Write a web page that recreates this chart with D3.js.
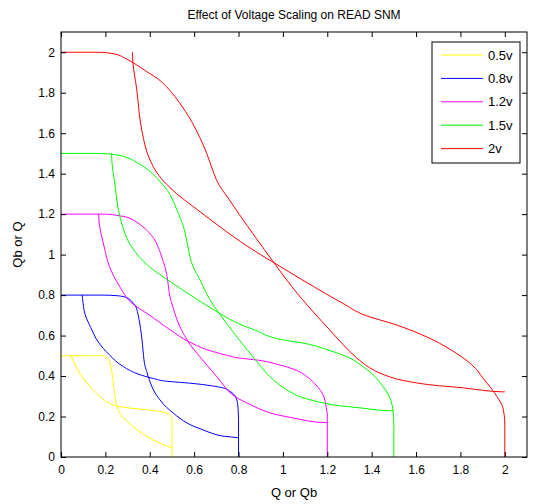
<!DOCTYPE html>
<html>
<head>
<meta charset="utf-8">
<script src="https://cdn.jsdelivr.net/npm/d3@7"></script>
<style>
  body { margin: 0; background: #fff; }
  text { font-family: "Liberation Sans", Arial, Helvetica, sans-serif; }
</style>
</head>
<body>
<svg id="chart" width="534" height="504"></svg>
<script>
// ---- Data ----
const voltages = ["0.5v", "0.8v", "1.2v", "1.5v", "2v"];
const colors = ["#ffff00", "#0000ff", "#ff00ff", "#00ff00", "#ff0000"];
const tickValues = [0, 0.2, 0.4, 0.6, 0.8, 1, 1.2, 1.4, 1.6, 1.8, 2];

// Voltage transfer curve (Qb vs Q) for each supply; the second butterfly
// wing is the same curve plotted with the axes swapped.
const vtc05 = [[0,0.5],[0.131,0.5],[0.185,0.5],[0.207,0.49],[0.221,0.465],[0.23,0.416],[0.239,0.332],[0.248,0.267],[0.266,0.218],[0.302,0.173],[0.356,0.124],[0.415,0.084],[0.478,0.054],[0.5,0.045]];
const vtc08 = [[0,0.8],[0.185,0.8],[0.252,0.797],[0.297,0.787],[0.324,0.762],[0.342,0.728],[0.352,0.678],[0.365,0.579],[0.374,0.48],[0.388,0.416],[0.41,0.347],[0.446,0.282],[0.505,0.218],[0.568,0.168],[0.64,0.134],[0.703,0.109],[0.784,0.097],[0.8,0.095]];
const vtc12 = [[0,1.2],[0.207,1.2],[0.257,1.193],[0.302,1.183],[0.356,1.149],[0.392,1.114],[0.433,1.05],[0.455,0.985],[0.478,0.891],[0.491,0.792],[0.5,0.757],[0.523,0.678],[0.568,0.579],[0.626,0.495],[0.703,0.396],[0.762,0.317],[0.838,0.267],[0.942,0.218],[1.032,0.196],[1.19,0.17],[1.2,0.17]];
const vtc15 = [[0,1.5],[0.162,1.5],[0.221,1.497],[0.297,1.48],[0.356,1.446],[0.401,1.411],[0.446,1.361],[0.491,1.297],[0.527,1.208],[0.559,1.109],[0.581,0.99],[0.626,0.876],[0.671,0.777],[0.708,0.718],[0.865,0.495],[0.942,0.396],[1.032,0.322],[1.181,0.267],[1.347,0.243],[1.492,0.228],[1.5,0.228]];
const vtc20 = [[0,2],[0.163,2],[0.248,1.99],[0.298,1.965],[0.384,1.906],[0.456,1.851],[0.533,1.752],[0.591,1.653],[0.655,1.505],[0.7,1.371],[0.758,1.272],[0.804,1.198],[0.953,0.97],[1.016,0.876],[1.21,0.629],[1.332,0.49],[1.391,0.441],[1.481,0.396],[1.603,0.366],[1.81,0.342],[1.991,0.322],[2,0.322]];
const curves = [vtc05, vtc08, vtc12, vtc15, vtc20];

// ---- Layout ----
const svg = d3.select("#chart");
const L = 61, R = 527, T = 32, B = 457;
const x = d3.scaleLinear().domain([0, 2.1]).range([L, R]);
const y = d3.scaleLinear().domain([0, 2.1]).range([B, T]);

svg.append("rect").attr("width", 534).attr("height", 504).attr("fill", "#fff");

// curves
const lineA = d3.line().x(d => x(d[0])).y(d => y(d[1])).curve(d3.curveMonotoneX);
const lineB = d3.line().x(d => x(d[1])).y(d => y(d[0])).curve(d3.curveMonotoneY);
const plot = svg.append("g");
curves.forEach((c, i) => {
  plot.append("path").attr("d", lineA(c)).attr("fill", "none")
    .attr("stroke", colors[i]).attr("stroke-width", 1);
  plot.append("path").attr("d", lineB(c)).attr("fill", "none")
    .attr("stroke", colors[i]).attr("stroke-width", 1);
});

// axes (ticks inward on all four sides)
const fs = "12px";
const gx = svg.append("g").attr("transform", `translate(0,${B})`)
  .call(d3.axisBottom(x).tickValues(tickValues).tickSize(-5).tickPadding(8).tickFormat(d3.format("")));
const gy = svg.append("g").attr("transform", `translate(${L},0)`)
  .call(d3.axisLeft(y).tickValues(tickValues).tickSize(-5).tickPadding(6).tickFormat(d3.format("")));
const gt = svg.append("g").attr("transform", `translate(0,${T})`)
  .call(d3.axisTop(x).tickValues(tickValues).tickSize(-5).tickFormat(""));
const gr = svg.append("g").attr("transform", `translate(${R},0)`)
  .call(d3.axisRight(y).tickValues(tickValues).tickSize(-5).tickFormat(""));
[gx, gy, gt, gr].forEach(g => {
  g.select(".domain").remove();
  g.selectAll("line").attr("stroke", "#000");
  g.selectAll("text").attr("fill", "#000").style("font-size", fs)
    .style("font-family", '"Liberation Sans", Arial, sans-serif');
});
svg.append("rect").attr("x", L).attr("y", T).attr("width", R - L).attr("height", B - T)
  .attr("fill", "none").attr("stroke", "#000").attr("stroke-width", 1);

// title and labels
svg.append("text").attr("x", (L + R) / 2).attr("y", 19).attr("text-anchor", "middle")
  .style("font-size", "12px").text("Effect of Voltage Scaling on READ SNM");
svg.append("text").attr("x", (L + R) / 2).attr("y", 497).attr("text-anchor", "middle")
  .style("font-size", "13px").text("Q or Qb");
svg.append("text").attr("transform", `translate(22,${(T + B) / 2}) rotate(-90)`)
  .attr("text-anchor", "middle").style("font-size", "13px").text("Qb or Q");

// legend
const lg = svg.append("g");
lg.append("rect").attr("x", 432).attr("y", 42).attr("width", 88).attr("height", 121)
  .attr("fill", "#fff").attr("stroke", "#000").attr("stroke-width", 1);
voltages.forEach((v, i) => {
  const yy = 55 + i * 23.4;
  lg.append("line").attr("x1", 441).attr("x2", 483).attr("y1", yy).attr("y2", yy)
    .attr("stroke", colors[i]).attr("stroke-width", 1);
  lg.append("text").attr("x", 488).attr("y", yy + 4.5).style("font-size", "13px").text(v);
});
</script>
</body>
</html>
